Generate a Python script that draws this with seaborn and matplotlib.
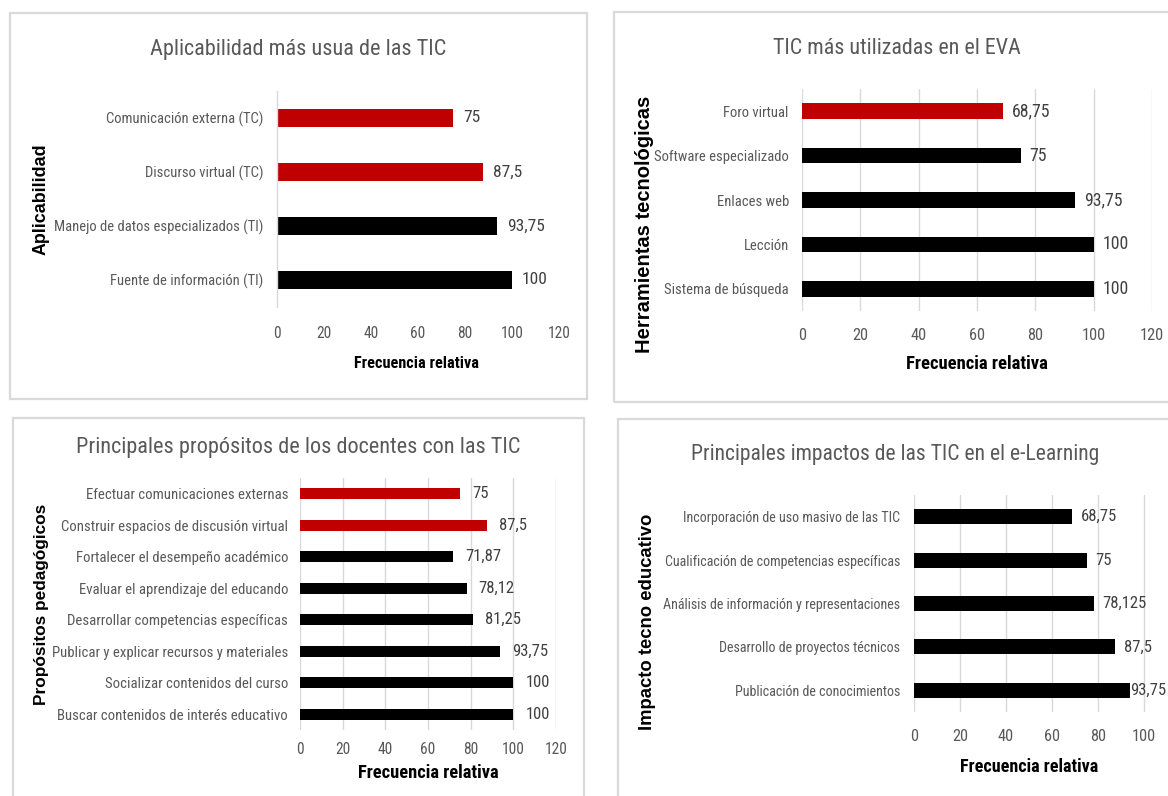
import matplotlib
matplotlib.use("Agg")
import matplotlib.pyplot as plt
from matplotlib import font_manager as fm
from matplotlib.patches import Rectangle
import seaborn as sns

# ---- data -------------------------------------------------------------
aplic_cats = ["Comunicación externa (TC)", "Discurso virtual (TC)",
              "Manejo de datos especializados (TI)", "Fuente de información (TI)"]
aplic_vals = [75, 87.5, 93.75, 100]
aplic_lbls = ["75", "87,5", "93,75", "100"]
aplic_cols = ["#C00000", "#C00000", "#000000", "#000000"]

eva_cats = ["Foro virtual", "Software especializado", "Enlaces web",
            "Lección", "Sistema de búsqueda"]
eva_vals = [68.75, 75, 93.75, 100, 100]
eva_lbls = ["68,75", "75", "93,75", "100", "100"]
eva_cols = ["#C00000", "#000000", "#000000", "#000000", "#000000"]

prop_cats = ["Efectuar comunicaciones externas",
             "Construir espacios de discusión virtual",
             "Fortalecer el desempeño académico",
             "Evaluar el aprendizaje del educando",
             "Desarrollar competencias específicas",
             "Publicar y explicar recursos y materiales",
             "Socializar contenidos del curso",
             "Buscar contenidos de interés educativo"]
prop_vals = [75, 87.5, 71.87, 78.12, 81.25, 93.75, 100, 100]
prop_lbls = ["75", "87,5", "71,87", "78,12", "81,25", "93,75", "100", "100"]
prop_cols = ["#C00000", "#C00000"] + ["#000000"] * 6

imp_cats = ["Incorporación de uso masivo de las TIC",
            "Cualificación de competencias específicas",
            "Análisis de información y representaciones",
            "Desarrollo de proyectos técnicos",
            "Publicación de conocimientos"]
imp_vals = [68.75, 75, 78.125, 87.5, 93.75]
imp_lbls = ["68,75", "75", "78,125", "87,5", "93,75"]
imp_cols = ["#000000"] * 5

x_ticks = [0, 20, 40, 60, 80, 100, 120]
x_ticks_short = [0, 20, 40, 60, 80, 100]

# ---- fonts ------------------------------------------------------------
sns.set_theme(style="white")
available = {f.name for f in fm.fontManager.ttflist}
narrow = next((n for n in ["Liberation Sans Narrow", "Roboto Condensed",
                           "Open Sans Condensed", "Noto Sans Condensed"]
               if n in available), "Liberation Sans")
plt.rcParams["font.family"] = [narrow, "DejaVu Sans"]

W, H = 1168, 796
fig = plt.figure(figsize=(W / 100, H / 100), dpi=100)
fig.patch.set_facecolor("white")

GRAY_TXT = "#595959"
GRID = "#d9d9d9"
value_texts = []


def px_axes(left, top, right, bottom):
    return fig.add_axes([left / W, 1 - bottom / H, (right - left) / W, (bottom - top) / H])


def ftext(x, y, s, **kw):
    fig.text(x / W, 1 - y / H, s, **kw)


def frame(x0, y0, x1, y1):
    fig.patches.append(Rectangle((x0 / W, 1 - y1 / H), (x1 - x0) / W, (y1 - y0) / H,
                                 transform=fig.transFigure, fill=False,
                                 edgecolor=GRID, linewidth=1.6, zorder=0))


def panel(box, cats, vals, lbls, cols, title, title_xy, title_fs,
          ylab, ylab_xy, ylab_fs, xlab_xy, xlab_fs, ticks=x_ticks,
          grid=True, tick_fs=10.5, xtick_fs=11.2, ytick_pad=10, xtick_pad=14,
          val_fs=12.5, val_gap=10):
    ax = px_axes(*box)
    sns.barplot(x=vals, y=cats, hue=cats, palette=cols, legend=False,
                width=0.35, ax=ax, edgecolor="none", saturation=1)
    ax.set_xlim(0, 120)
    ax.set_xticks(ticks)
    ax.set_xlabel("")
    ax.set_ylabel("")
    ax.set_facecolor("none")
    for s in ax.spines.values():
        s.set_visible(False)
    if grid:
        ax.xaxis.grid(True, color=GRID, linewidth=1.0)
        ax.set_axisbelow(True)
        ax.tick_params(axis="y", length=0, pad=ytick_pad)
    else:
        ax.spines["left"].set_visible(True)
        ax.spines["left"].set_color(GRID)
        ax.spines["left"].set_linewidth(1.0)
        ax.set_yticks([i - 0.5 for i in range(len(cats) + 1)], minor=True)
        ax.tick_params(axis="y", which="minor", length=4, color=GRID, width=1.0)
        ax.tick_params(axis="y", which="major", length=0, pad=ytick_pad)
    ax.tick_params(axis="x", length=0, pad=xtick_pad)
    for lab in ax.get_yticklabels():
        lab.set_color(GRAY_TXT)
        lab.set_fontsize(tick_fs)
    for lab in ax.get_xticklabels():
        lab.set_color(GRAY_TXT)
        lab.set_fontsize(xtick_fs)
    for i, (v, t) in enumerate(zip(vals, lbls)):
        value_texts.append(
            ax.annotate(t, (v, i), xytext=(val_gap, 0), textcoords="offset pixels",
                        ha="left", va="center", fontsize=val_fs, color="#404040"))
    ftext(*title_xy, title, ha="center", va="center", fontsize=title_fs, color=GRAY_TXT)
    ftext(*xlab_xy, "Frecuencia relativa", ha="center", va="center",
          fontsize=xlab_fs, fontweight="bold", color="#000000")
    ftext(*ylab_xy, ylab, ha="center", va="center", rotation=90, fontsize=ylab_fs,
          fontweight="bold", color="#000000", family=["Liberation Sans", "DejaVu Sans"])
    return ax


frame(9.5, 12.5, 587, 399)
frame(614, 12, 1180, 402)
frame(13, 418, 584, 810)
frame(618, 419, 1180, 810)

panel((277, 91, 559, 307), aplic_cats, aplic_vals, aplic_lbls, aplic_cols,
      "Aplicabilidad más usua de las TIC", (298, 50), 16,
      "Aplicabilidad", (41, 199), 12.9, (417, 363), 11.7,
      grid=False, tick_fs=10.5, ytick_pad=10, xtick_pad=13.5,
      val_fs=12.5, val_gap=10)

panel((802, 89, 1152, 311), eva_cats, eva_vals, eva_lbls, eva_cols,
      "TIC más utilizadas en el EVA", (897, 48), 15.8,
      "Herramientas tecnológicas", (645, 224), 14.5, (977, 364), 13.4,
      tick_fs=10.5, xtick_fs=11.8, ytick_pad=9.5, xtick_pad=12,
      val_fs=12.8, val_gap=9)

panel((300, 478, 556, 730), prop_cats, prop_vals, prop_lbls, prop_cols,
      "Principales propósitos de los docentes con las TIC", (298, 447), 16,
      "Propósitos pedagógicos", (42, 604), 12.4, (428, 773), 13.3,
      tick_fs=10.6, ytick_pad=8.6, xtick_pad=8.5,
      val_fs=12, val_gap=12)

panel((914, 495, 1190, 712), imp_cats, imp_vals, imp_lbls, imp_cols,
      "Principales impactos de las TIC en el e-Learning", (895, 455), 15.6,
      "Impacto tecno educativo", (647, 622), 13.3, (1029, 767), 13.1,
      ticks=x_ticks_short, tick_fs=10.1, xtick_fs=11.8, ytick_pad=10, xtick_pad=12,
      val_fs=12, val_gap=9)

# Value labels that would run past the right edge are pulled back inside.
fig.canvas.draw()
renderer = fig.canvas.get_renderer()
for t in value_texts:
    bb = t.get_window_extent(renderer)
    if bb.x1 > W - 2:
        dx, dy = t.xyann
        t.xyann = (dx - (bb.x1 - (W - 2)), dy)

fig.savefig("out.png", dpi=100, facecolor="white")
